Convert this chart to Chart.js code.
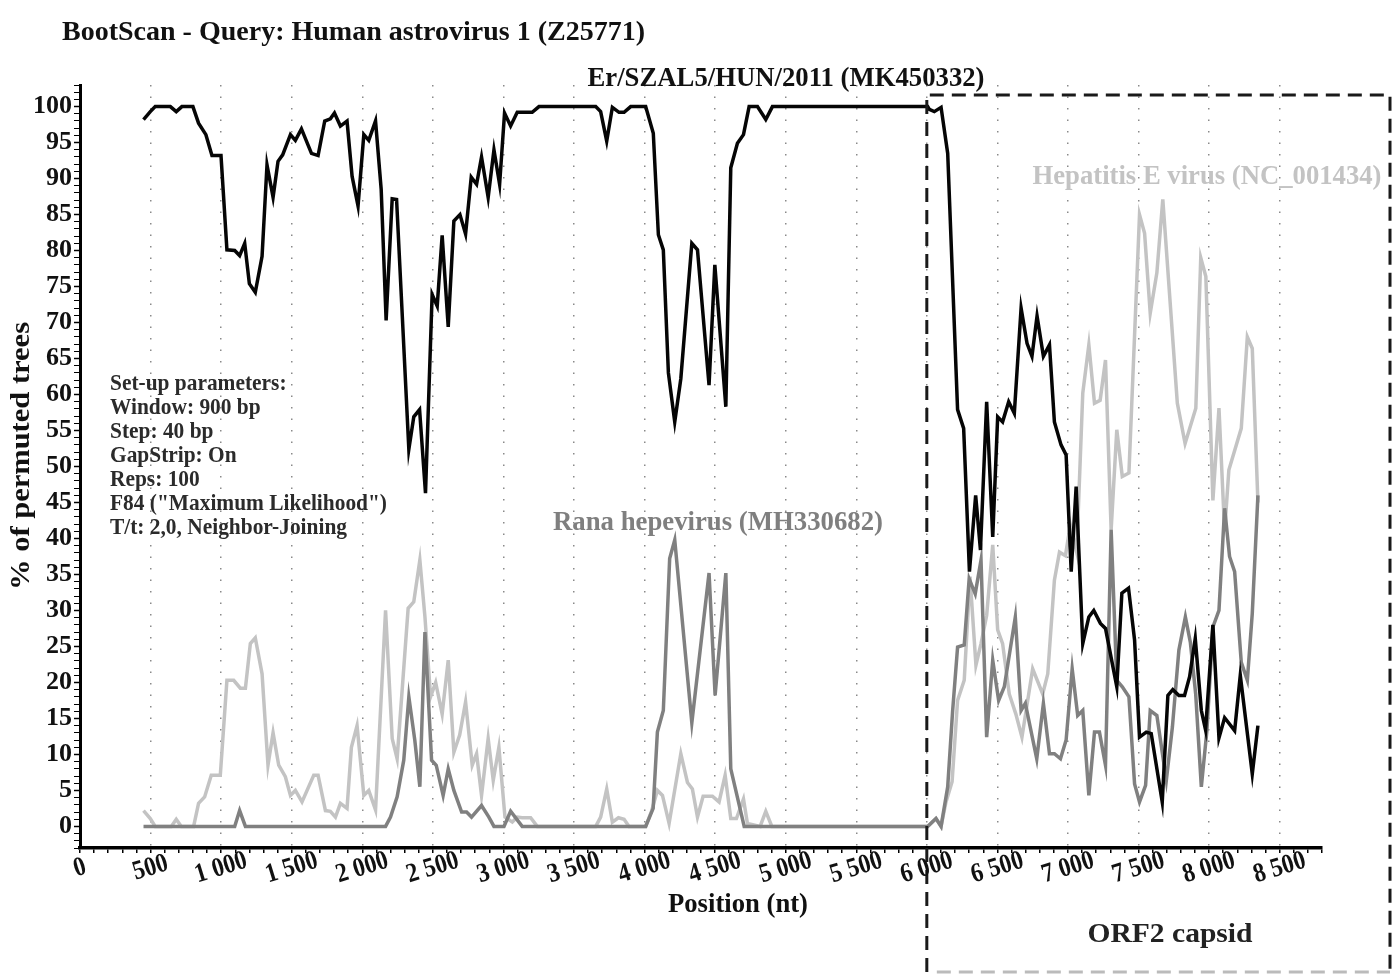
<!DOCTYPE html>
<html>
<head>
<meta charset="UTF-8">
<title>BootScan - Query: Human astrovirus 1 (Z25771)</title>
<script src="https://cdn.jsdelivr.net/npm/chart.js"></script>
<style>
  body { margin: 0; background: #fff; }
  #wrap { width: 1400px; height: 975px; position: relative; }
</style>
</head>
<body>
<div id="wrap"><canvas id="scan"></canvas></div>
<script>
// bootscan support (% of permuted trees), x = position (nt)
const erPos = [450,498,533,640,682,722,800,840,892,935,999,1041,1096,1131,1167,1200,1242,1290,1325,1368,1403,1436,1491,1526,1569,1640,1687,1734,1774,1803,1845,1892,1928,1970,2011,2046,2094,2134,2169,2212,2243,2330,2365,2406,2448,2495,2531,2566,2609,2649,2692,2732,2772,2810,2845,2892,2933,2973,3008,3051,3098,3204,3252,3654,3689,3732,3772,3819,3855,3902,4008,4062,4098,4133,4169,4214,4257,4335,4375,4457,4498,4576,4611,4658,4701,4741,4800,4859,4906,6006,6018,6053,6101,6148,6218,6261,6302,6346,6380,6424,6467,6502,6537,6580,6620,6668,6710,6745,6781,6826,6869,6904,6951,6987,7023,7058,7105,7148,7183,7230,7266,7346,7382,7429,7472,7507,7555,7590,7668,7708,7743,7786,7826,7862,7902,7945,7975,8027,8070,8110,8181,8221,8306,8346];
const erVal = [98.2,99.3,100,100,99.3,100,100,97.7,96.1,93.2,93.2,80.1,80,79.3,81,75.4,74.2,79.2,91.9,87.4,92.4,93.3,96.1,95.3,96.9,93.5,93.2,98,98.3,99.1,97.3,98,90.3,86.2,96.1,95.3,98,88.5,70.3,87.2,87.1,52.4,56.9,57.9,46.3,73.9,72.3,82.1,69.4,84.1,85,82.3,90.2,89.2,93,87.4,94,89.2,99.1,97.3,99.2,99.2,100,100,99.3,95.2,99.9,99.2,99.2,100,100,96.3,82.2,80.1,63,56.2,62.2,81,80.1,61.3,78,58.3,91.5,94.9,96.1,100,100,98.2,100,100,99.6,99.3,99.9,93.5,57.9,55.3,35.4,46,38.4,59,40.2,56.9,56.2,59,57.4,72,67.1,65.3,70.9,65.3,66.9,56.2,53,51.6,35.4,47.2,25.4,29.1,30,28.2,27.5,19.4,32.4,33.1,25.9,12.4,13.1,12.9,3.4,18.2,19,18.2,18.2,20.8,26.1,16.1,13.4,28,12.3,15.1,13.3,21,7.3,14];

const ranaPos = [450,1096,1131,1172,2165,2200,2247,2294,2330,2372,2408,2444,2491,2524,2573,2609,2649,2704,2739,2774,2845,2897,2933,3004,3051,3133,4008,4061,4091,4133,4178,4214,4335,4457,4500,4576,4611,4706,6006,6065,6101,6148,6183,6218,6265,6300,6343,6384,6424,6467,6509,6549,6627,6668,6698,6779,6826,6869,6904,6947,6987,7030,7069,7105,7148,7188,7223,7266,7306,7346,7385,7432,7472,7507,7550,7583,7630,7697,7740,7786,7832,7867,7905,7945,7985,8027,8070,8110,8145,8181,8228,8271,8306,8346];
const ranaVal = [0,0,2.2,0,0,1.3,4.1,9.2,18,12,5.5,27,9.2,8.5,4.3,8,5,2,2,1.3,2.9,1.3,0,0,2.1,0,0,2.5,13.1,16.1,37.2,39.8,14.4,35.2,18.2,35.2,8,0,0,1.1,0,5.5,16.1,24.9,25.2,34.4,32.3,37,12.4,23.1,17.5,19.4,29.1,16.1,17.1,9.4,17.1,10.1,10.1,9.4,12,21.9,15.4,16.1,4.3,13.1,13.1,8.5,41.2,20.3,19.4,18,5.9,3.4,5.7,16.1,15.4,6.4,13.8,24.5,29.1,25.6,18.4,5.5,13.4,27.7,30,44.2,37.5,35.4,22.8,20.3,29.6,46];

const hevPos = [450,498,533,647,682,718,805,840,883,930,994,1041,1089,1136,1172,1207,1242,1290,1332,1368,1408,1455,1491,1526,1573,1656,1687,1739,1774,1810,1845,1892,1923,1963,2011,2046,2094,2165,2212,2247,2325,2365,2408,2444,2484,2520,2566,2609,2649,2690,2732,2779,2810,2845,2892,2928,2968,3011,3063,3098,3133,3193,3240,3654,3689,3732,3772,3815,3855,3890,4008,4051,4091,4127,4174,4257,4304,4339,4375,4415,4481,4528,4571,4611,4651,4701,4729,4819,4859,4902,6006,6065,6101,6136,6179,6218,6265,6306,6348,6384,6424,6467,6502,6537,6584,6631,6674,6750,6821,6857,6904,6940,6982,7017,7062,7105,7148,7188,7228,7266,7306,7346,7385,7432,7507,7543,7583,7630,7672,7775,7830,7906,7941,7977,8027,8070,8110,8140,8228,8271,8306,8346];
const hevVal = [2.2,1.1,0,0,1,0,0,3.2,4.1,7.1,7.1,20.3,20.3,19.2,19.2,25.4,26.2,21.2,8.5,13,8.5,6.9,4.3,5,3.4,7.1,7.1,2.2,2.1,1.3,3.2,2.5,11,14,4.3,5,2.3,30,12.2,9.4,30.3,31.2,37,29.1,18,20,15.6,23.1,10.3,12.7,17.3,8.5,10.1,4.3,12.2,6.4,11,1.3,0.6,1.3,1.2,1.2,0,0,1.3,5.2,0.6,1.2,1,0,0,2.2,5,4.3,0.4,10.1,6.1,5.2,1.3,4.2,4.2,3.4,7.1,1.1,1.1,3.8,0.4,0,2.1,0,0,1.1,0,3.4,6.2,17.5,20.3,34.7,22.4,25.4,29.3,39.1,27.3,25.4,18.4,15.6,12.4,21.9,18.4,21.2,34.2,38.1,37.6,41.9,38.1,60.2,66.9,58.8,59.2,64.8,41.2,55.1,48.6,49.1,85,82.4,71.3,76.9,87.1,58.8,53.2,58.1,79,76.4,45.3,58.1,41,49.5,55.3,68,66.4,45];

const xTickPos = [0,500,1000,1500,2000,2500,3000,3500,4000,4500,5000,5500,6000,6500,7000,7500,8000,8500];
const xTickLabels = ['0','500','1 000','1 500','2 000','2 500','3 000','3 500','4 000','4 500','5 000','5 500','6 000','6 500','7 000','7 500','8 000','8 500'];

const setupLines = ['Set-up parameters:','Window: 900 bp','Step: 40 bp','GapStrip: On','Reps: 100','F84 ("Maximum Likelihood")','T/t: 2,0, Neighbor-Joining'];

const SERIF = '"Liberation Serif", "Times New Roman", serif';

function pts(xs, ys) {
    return xs.map((x, i) => ({ x: x, y: ys[i] }));
}

// text squeezed to a given width (the figure's lettering is condensed)
function fitText(ctx, s, x, y, size, color, align, width, angle, squeeze) {
    ctx.save();
    ctx.font = 'bold ' + size + 'px ' + SERIF;
    const sx = width ? width / ctx.measureText(s).width : (squeeze || 1);
    ctx.translate(x, y);
    if (angle) ctx.rotate(angle);
    ctx.scale(sx, 1);
    ctx.fillStyle = color;
    ctx.textAlign = align;
    ctx.textBaseline = 'middle';
    ctx.fillText(s, 0, 0);
    ctx.restore();
    return sx;
}

const overlay = {
    id: 'overlay',
    afterDatasetsDraw(chart) {
        const ctx = chart.ctx;
        const x0 = chart.scales.x.getPixelForValue(6000);
        // ORF2 capsid box
        ctx.save();
        ctx.strokeStyle = '#1a1a1a';
        ctx.lineWidth = 3;
        ctx.setLineDash([14, 8]);
        ctx.beginPath();
        ctx.moveTo(x0, 972); ctx.lineTo(x0, 95); ctx.lineTo(1390, 95); ctx.lineTo(1390, 972);
        ctx.stroke();
        ctx.strokeStyle = '#bbb';
        ctx.beginPath();
        ctx.moveTo(x0 + 10, 972); ctx.lineTo(1390, 972);
        ctx.stroke();
        ctx.restore();
    },
    afterDraw(chart) {
        const ctx = chart.ctx;
        const xs = chart.scales.x;
        xTickPos.forEach((v, i) => {
            fitText(ctx, xTickLabels[i], xs.getPixelForValue(v), 868, 27, '#111', 'center', null, -17 * Math.PI / 180, 0.88);
        });
        fitText(ctx, 'BootScan - Query: Human astrovirus 1 (Z25771)', 62, 33, 28, '#111', 'left', 583);
        fitText(ctx, 'Er/SZAL5/HUN/2011 (MK450332)', 786, 79, 28, '#111', 'center', 397);
        fitText(ctx, 'Hepatitis E virus (NC_001434)', 1207, 177, 27, '#c3c3c3', 'center', 349);
        fitText(ctx, 'Rana hepevirus (MH330682)', 718, 523, 27, '#7f7f7f', 'center', 330);
        fitText(ctx, 'Position (nt)', 738, 905, 28, '#111', 'center', 140);
        fitText(ctx, 'ORF2 capsid', 1170, 935, 28, '#222', 'center', 165);
        fitText(ctx, '% of permuted trees', 22, 456, 28, '#111', 'center', 268, -Math.PI / 2);
        ctx.save();
        ctx.font = 'bold 24px ' + SERIF;
        const sx = 277 / ctx.measureText(setupLines[5]).width;
        ctx.restore();
        setupLines.forEach((s, i) => {
            fitText(ctx, s, 110, 384 + i * 23.9, 24, '#2b2b2b', 'left', null, 0, sx);
        });
    }
};

new Chart(document.getElementById('scan'), {
    type: 'line',
    data: {
        datasets: [
            { label: 'Er/SZAL5/HUN/2011 (MK450332)', data: pts(erPos, erVal), borderColor: '#050505' },
            { label: 'Rana hepevirus (MH330682)', data: pts(ranaPos, ranaVal), borderColor: '#808080' },
            { label: 'Hepatitis E virus (NC_001434)', data: pts(hevPos, hevVal), borderColor: '#c3c3c3' }
        ]
    },
    options: {
        responsive: true,
        maintainAspectRatio: false,
        animation: false,
        layout: { padding: { top: 85, right: 78, left: 0, bottom: 0 } },
        elements: {
            point: { radius: 0 },
            line: { borderWidth: 3.5, tension: 0, fill: false }
        },
        plugins: { legend: { display: false }, tooltip: { enabled: false } },
        scales: {
            x: {
                type: 'linear', min: 0, max: 8800,
                afterFit: s => { s.height = 127; },
                ticks: { display: false, stepSize: 100, autoSkip: false, maxTicksLimit: 200 },
                grid: {
                    color: c => (c.tick && c.tick.value > 0 && c.tick.value % 500 === 0) ? '#8a8a8a' : 'rgba(0,0,0,0)',
                    lineWidth: 1.5,
                    tickColor: '#000', tickLength: 5, tickWidth: 1.5
                },
                border: { color: '#000', width: 3.5, dash: [1.5, 10] }
            },
            y: {
                min: -3, max: 103,
                afterFit: s => { s.width = 80; },
                ticks: {
                    stepSize: 1, autoSkip: false, maxTicksLimit: 200, padding: 2,
                    callback: v => (v % 5 === 0 && v >= 0 && v <= 100) ? String(v) : '',
                    font: { family: SERIF, size: 26, weight: 'bold' },
                    color: '#111'
                },
                grid: {
                    drawOnChartArea: false,
                    tickColor: '#000', tickLength: 6,
                    tickWidth: c => (c.tick && c.tick.value % 5 === 0) ? 1.5 : 1
                },
                border: { color: '#000', width: 3 }
            }
        }
    },
    plugins: [overlay]
});
</script>
</body>
</html>
